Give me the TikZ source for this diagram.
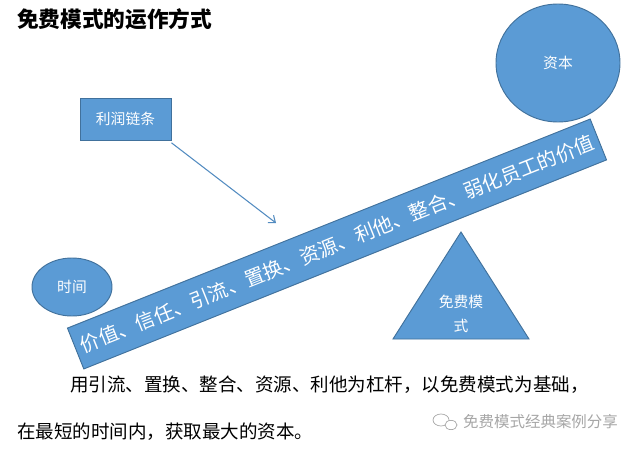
\documentclass[tikz,border=0pt]{standalone}
\usepackage{fontspec}
\setmainfont{Noto Sans CJK SC}
\usetikzlibrary{arrows.meta,shapes.geometric}
\definecolor{shapefill}{HTML}{5B9BD5}
\definecolor{shapeedge}{HTML}{41719C}
\definecolor{wmgray}{HTML}{A6A6A6}

\begin{document}
\begin{tikzpicture}[x=0.03cm, y=-0.03cm, every node/.style={font=\fontsize{12.6pt}{15pt}\selectfont, inner sep=0pt},
    blob/.style={draw=shapeedge, fill=shapefill, text=white, line width=0.8pt},
    flow/.style={shapefill!90!black, line width=0.9pt, -{Straight Barb[length=5pt,width=8pt]}}]
  \useasboundingbox (0,0) rectangle (640,450);
  \node[anchor=west, font=\fontsize{18.5pt}{20pt}\selectfont\bfseries] (title) at (17,19) {免费模式的运作方式};
  % shapes
  \node[blob, rectangle, minimum width=2.73cm, minimum height=1.26cm] (chain) at (125.5,119) {利润链条};
  \node[blob, ellipse, minimum width=3.72cm, minimum height=3.54cm] (capital) at (558,63) {资本};
  \node[blob, ellipse, minimum width=2.4cm, minimum height=1.74cm] (time) at (72,287) {时间};
  \node[blob, rectangle, minimum width=16.89cm, minimum height=1.32cm, rotate=21.8,
        font=\fontsize{16.8pt}{18pt}\selectfont] (beam) at (337,244) {价值、信任、引流、置换、资源、利他、整合、弱化员工的价值};
  \draw[blob] (461,232) -- (529,339) -- (393,339) -- cycle;
  \node[text=white, align=center, font=\fontsize{12.6pt}{21pt}\selectfont] (pivot) at (461,314) {免费模\\式};
  \coordinate (tip) at (276,223);
  \draw[flow] ([yshift=-2pt]chain.south east) -- (tip);
  % caption
  \foreach \n/\x/\y/\t in {1/70/385/{用引流、置换、整合、资源、利他为杠杆，以免费模式为基础，}, 2/17/432/{在最短的时间内，获取最大的资本。}}{
    \node[anchor=west, font=\fontsize{15.8pt}{18pt}\selectfont] (line\n) at (\x,\y) {\t};
  }
  \draw[wmgray, line width=0.6pt] (441,420) ellipse (0.24cm and 0.18cm);
  \draw[wmgray, line width=0.6pt, fill=white] (451,425) ellipse (0.18cm and 0.14cm);
  \node[anchor=west, text=wmgray, font=\fontsize{13.2pt}{15pt}\selectfont] (credit) at (463,422) {免费模式经典案例分享};
\end{tikzpicture}
\end{document}
